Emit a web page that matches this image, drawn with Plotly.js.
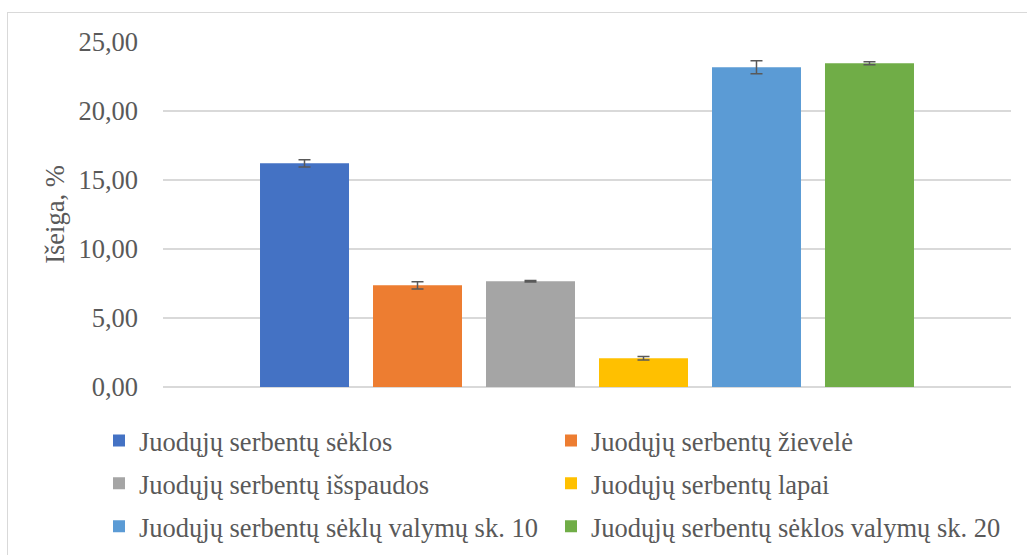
<!DOCTYPE html>
<html>
<head>
<meta charset="utf-8">
<script src="https://cdn.plot.ly/plotly-3.0.1.min.js"></script>
<style>
  html, body { margin: 0; padding: 0; width: 1027px; height: 555px; overflow: hidden; background: #fff; }
  #chart { position: absolute; left: 0; top: 0; width: 1027px; height: 555px; }
  #frame { position: absolute; left: 7px; top: 12px; width: 1100px; height: 700px; border: 1.5px solid #d9d9d9; pointer-events: none; }
</style>
</head>
<body>
<div id="chart"></div>
<div id="frame"></div>
<script>
const seriesNames = [
  "Juodųjų serbentų sėklos",
  "Juodųjų serbentų žievelė",
  "Juodųjų serbentų išspaudos",
  "Juodųjų serbentų lapai",
  "Juodųjų serbentų sėklų valymų sk. 10",
  "Juodųjų serbentų sėklos valymų sk. 20"
];
const seriesValues = [16.21, 7.37, 7.66, 2.08, 23.17, 23.46];
const seriesErrors = [0.26, 0.26, 0.05, 0.13, 0.47, 0.11];
const seriesColors = ["#4472C4", "#ED7D31", "#A5A5A5", "#FFC000", "#5B9BD5", "#70AD47"];
const yTicks = [0, 5, 10, 15, 20, 25];
const yTitle = "Išeiga, %";

const fontFamily = "'Liberation Serif', 'Times New Roman', serif";
const textColor = "#595959";
const fontSize = 26.5;

const legendKeys = ["legend", "legend2", "legend3", "legend4", "legend5", "legend6"];

const traces = seriesNames.map((name, i) => ({
  type: "bar",
  name: name,
  x: ["c"],
  y: [seriesValues[i]],
  marker: { color: seriesColors[i], line: { width: 0 } },
  error_y: { type: "data", array: [seriesErrors[i]], visible: true, color: "#595959", thickness: 1.5, width: 6 },
  legend: legendKeys[i],
  hoverinfo: "skip"
}));

const layout = {
  width: 1027,
  height: 555,
  margin: { l: 163, r: 16, t: 42, b: 168, pad: 0, autoexpand: false },
  paper_bgcolor: "#ffffff",
  plot_bgcolor: "#ffffff",
  separators: ",.",
  barmode: "group",
  bargap: 0.2005,
  bargroupgap: 0.2124,
  font: { family: fontFamily, color: textColor, size: fontSize },
  showlegend: true,
  xaxis: {
    type: "category",
    showticklabels: false,
    showgrid: false,
    zeroline: false,
    showline: false,
    ticks: ""
  },
  yaxis: {
    range: [0, 25],
    tickvals: yTicks,
    tickformat: ".2f",
    showgrid: true,
    gridcolor: "#d9d9d9",
    gridwidth: 1.5,
    zeroline: true,
    zerolinecolor: "#d9d9d9",
    zerolinewidth: 1.5,
    showline: false,
    ticks: "",
    ticklabelstandoff: 24,
    tickfont: { family: fontFamily, size: fontSize, color: textColor },
    title: { text: yTitle, font: { family: fontFamily, size: fontSize, color: textColor }, standoff: 6 }
  }
};

const colX = [99, 551];
const rowY = [440.7, 483.5, 526.5];
legendKeys.forEach((key, i) => {
  layout[key] = {
    orientation: "h",
    xref: "container",
    yref: "container",
    xanchor: "left",
    yanchor: "middle",
    x: colX[i % 2] / 1027,
    y: 1 - rowY[Math.floor(i / 2)] / 555,
    font: { family: fontFamily, size: fontSize, color: textColor },
    bgcolor: "rgba(0,0,0,0)",
    borderwidth: 0,
    itemclick: false
  };
});

Plotly.newPlot("chart", traces, layout, { displayModeBar: false, staticPlot: true });
</script>
</body>
</html>
